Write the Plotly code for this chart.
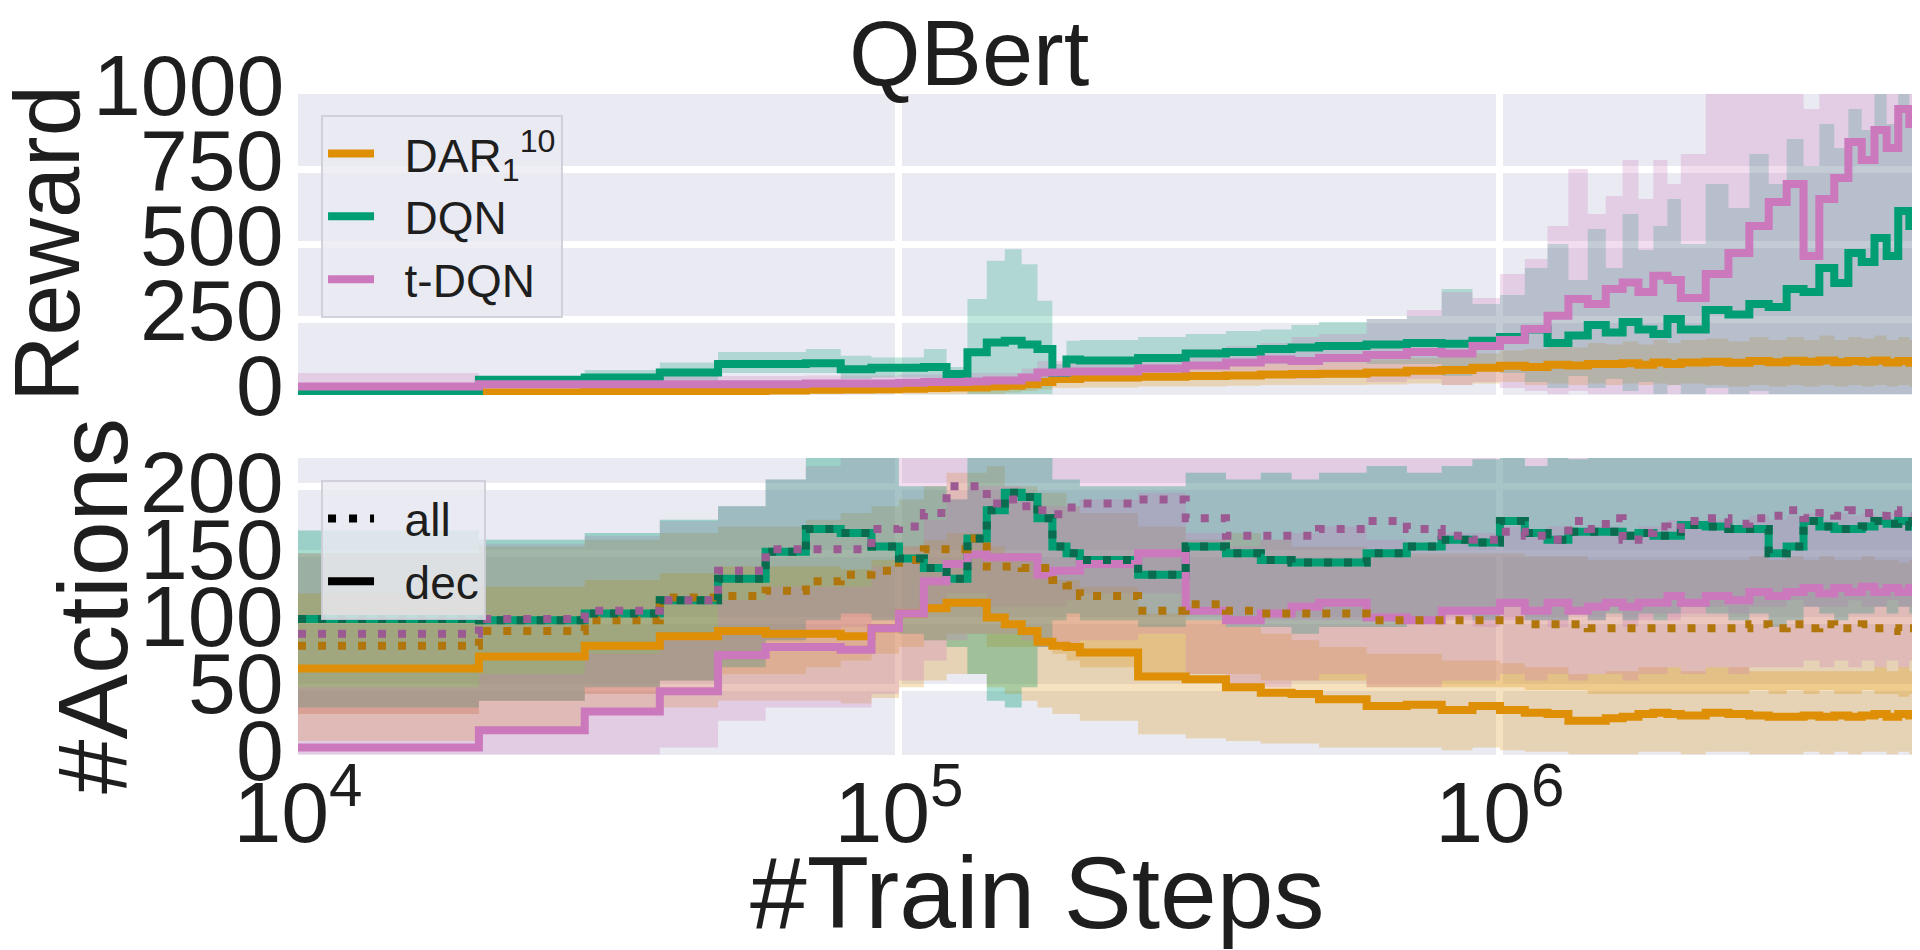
import math
import plotly.graph_objects as go

# ---------------- data (train steps in thousands) ----------------
STEPS_K = [10, 20, 30, 40, 50, 60, 70, 80, 90, 100,
           110, 120, 130, 140, 150, 160, 170, 180, 190, 200,
           250, 300, 350, 400, 450, 500, 600, 700, 800, 900,
           1000, 1100, 1200, 1300, 1400, 1500, 1600, 1700, 1800, 1900,
           2000, 2200, 2400, 2600, 2800, 3000, 3200, 3400, 3600, 3800,
           4000, 4200, 4400, 4600, 4800, 5000]

# ---- Reward panel ----
R_DAR = [3, 5, 8, 8, 10, 12, 14, 15, 16, 18,
         20, 22, 22, 25, 28, 33, 40, 50, 50, 55,
         58, 60, 62, 65, 67, 68, 72, 78, 80, 88,
         94, 90, 98, 95, 100, 100, 103, 98, 105, 100,
         105, 108, 104, 110, 106, 111, 108, 112, 106, 110,
         108, 112, 105, 110, 104, 100]
R_DAR_LO = [0, 0, 0, 0, 0, 0, 0, 0, 0, 0,
            0, 0, 0, 0, 5, 10, 15, 20, 20, 22,
            25, 25, 28, 30, 30, 30, 32, 35, 30, 35,
            40, 30, 35, 30, 35, 30, 35, 30, 35, 30,
            35, 30, 25, 30, 25, 30, 25, 30, 25, 30,
            25, 30, 25, 30, 25, 25]
R_DAR_HI = [30, 25, 28, 30, 32, 35, 38, 40, 42, 45,
            48, 50, 50, 55, 58, 62, 70, 80, 82, 88,
            92, 95, 98, 100, 105, 105, 115, 120, 125, 135,
            145, 150, 160, 155, 170, 165, 175, 165, 180, 170,
            180, 185, 175, 190, 180, 190, 180, 195, 180, 190,
            185, 195, 180, 190, 180, 175]

R_DQN = [3, 48, 55, 72, 100, 100, 103, 83, 88, 88,
         90, 67, 139, 172, 178, 165, 150, 70, 115, 112,
         120, 135, 140, 150, 155, 160, 165, 170, 168, 178,
         190, 215, 170, 195, 230, 205, 240, 215, 200, 250,
         215, 280, 265, 300, 290, 350, 340, 420, 370, 470,
         440, 520, 460, 610, 560, 700]
R_DQN_LO = [0, 30, 35, 45, 70, 70, 70, 50, 55, 55,
            50, 40, 0, 0, 0, 0, 0, 40, 60, 70,
            80, 90, 95, 100, 100, 105, 100, 100, 60, 80,
            70, 40, 20, 60, 20, 50, 10, 40, 0, 30,
            0, 20, 0, 10, 0, 0, 0, 0, 0, 0,
            0, 0, 0, 0, 0, 0]
R_DQN_HI = [20, 60, 80, 105, 140, 140, 150, 128, 122, 122,
            150, 90, 317, 444, 483, 433, 311, 100, 178, 180,
            190, 200, 210, 215, 230, 240, 250, 260, 350, 300,
            330, 420, 500, 380, 550, 420, 600, 480, 560, 650,
            500, 700, 620, 800, 700, 850, 760, 900, 820, 950,
            880, 1010, 900, 1010, 950, 1010]

R_TDQN = [25, 33, 33, 33, 33, 33, 35, 35, 35, 38,
          40, 40, 42, 45, 45, 55, 72, 72, 75, 75,
          85, 95, 105, 115, 110, 120, 130, 140, 135, 160,
          180, 217, 261, 317, 300, 350, 372, 340, 394, 380,
          320, 400, 470, 560, 640, 700, 460, 650, 720, 840,
          780, 880, 820, 950, 900, 930]
R_TDQN_LO = [0, 10, 10, 10, 10, 10, 12, 12, 12, 15,
             15, 15, 15, 20, 20, 25, 40, 40, 40, 40,
             45, 50, 55, 60, 50, 55, 40, 50, 30, 40,
             20, 10, 0, 10, 0, 0, 0, 0, 0, 0,
             0, 0, 0, 0, 0, 0, 0, 0, 0, 0,
             0, 0, 0, 0, 0, 0]
R_TDQN_HI = [70, 55, 55, 60, 60, 60, 62, 62, 62, 65,
             65, 65, 70, 70, 70, 85, 110, 110, 115, 120,
             130, 150, 160, 170, 190, 200, 250, 280, 340, 320,
             400, 450, 560, 750, 600, 660, 780, 650, 780, 700,
             800, 1010, 1010, 1010, 1010, 1010, 950, 1010, 1010, 1010,
             1010, 1010, 1010, 1010, 1010, 1010]

# ---- #Actions panel ----
A_DAR_ALL = [81, 92, 100, 117, 118, 122, 129, 134, 137, 145,
             153, 153, 161, 140, 140, 139, 139, 130, 126, 118,
             107, 112, 107, 105, 105, 105, 100, 100, 100, 100,
             100, 97, 97, 97, 94, 94, 94, 94, 94, 94,
             94, 94, 94, 97, 94, 97, 94, 97, 94, 94,
             97, 94, 94, 92, 94, 94]
A_DAR_ALL_LO = [30, 40, 45, 55, 60, 60, 65, 70, 75, 80,
                85, 90, 90, 80, 80, 80, 80, 75, 70, 65,
                60, 60, 60, 55, 55, 55, 50, 50, 50, 50,
                50, 48, 48, 48, 45, 45, 45, 45, 45, 45,
                45, 45, 45, 48, 45, 48, 45, 48, 45, 45,
                48, 45, 45, 43, 45, 45]
A_DAR_ALL_HI = [150, 155, 160, 165, 170, 170, 175, 180, 185, 190,
                200, 210, 210, 215, 200, 200, 195, 195, 185, 180,
                170, 160, 165, 160, 155, 155, 150, 150, 150, 150,
                150, 148, 148, 148, 145, 145, 145, 145, 145, 145,
                145, 145, 145, 148, 145, 148, 145, 148, 145, 145,
                148, 145, 145, 143, 145, 145]

A_DAR_DEC = [64, 73, 81, 88, 92, 90, 90, 88, 94, 105,
             109, 113, 113, 102, 97, 92, 84, 81, 80, 76,
             58, 56, 50, 46, 45, 41, 36, 37, 33, 36,
             33, 31, 30, 25, 25, 27, 28, 30, 31, 30,
             29, 31, 30, 29, 28, 28, 29, 28, 29, 28,
             29, 30, 28, 30, 29, 29]
A_DAR_DEC_LO = [10, 20, 30, 35, 40, 40, 40, 38, 42, 50,
                55, 60, 60, 50, 45, 40, 35, 30, 30, 25,
                15, 12, 10, 8, 8, 5, 5, 5, 3, 5,
                3, 2, 2, 0, 0, 0, 0, 2, 2, 2,
                0, 2, 2, 0, 0, 0, 2, 0, 2, 0,
                2, 2, 0, 2, 0, 2]
A_DAR_DEC_HI = [120, 125, 130, 135, 140, 140, 140, 138, 145, 155,
                160, 165, 165, 155, 150, 145, 135, 130, 130, 125,
                105, 100, 95, 90, 85, 80, 75, 75, 70, 70,
                68, 65, 65, 60, 60, 62, 62, 65, 65, 65,
                62, 65, 65, 62, 62, 62, 62, 62, 62, 62,
                62, 65, 62, 65, 62, 62]

# DQN: all actions == decisions
A_DQN = [101, 100, 105, 115, 131, 151, 168, 165, 155, 146,
         139, 131, 161, 182, 195, 192, 176, 155, 150, 145,
         134, 155, 150, 145, 143, 143, 150, 155, 160, 158,
         174, 165, 160, 166, 166, 166, 163, 165, 163, 163,
         171, 170, 168, 168, 150, 155, 174, 170, 168, 168,
         170, 174, 172, 174, 170, 155]
A_DQN_LO = [35, 40, 50, 55, 65, 85, 100, 105, 100, 90,
            85, 80, 60, 40, 35, 50, 80, 100, 105, 100,
            95, 100, 95, 95, 90, 95, 95, 100, 105, 100,
            110, 100, 100, 105, 100, 105, 100, 105, 100, 105,
            110, 105, 100, 105, 95, 100, 110, 105, 100, 105,
            105, 110, 105, 110, 105, 95]
A_DQN_HI = [167, 160, 165, 175, 185, 205, 230, 230, 230, 200,
            200, 190, 230, 230, 230, 230, 230, 205, 205, 200,
            200, 210, 205, 210, 205, 210, 215, 210, 215, 220,
            230, 215, 230, 220, 230, 230, 230, 230, 230, 230,
            230, 230, 230, 230, 230, 230, 230, 230, 230, 230,
            230, 230, 230, 230, 230, 230]

A_TDQN_ALL = [90, 101, 107, 115, 137, 153, 153, 153, 168, 170,
              180, 200, 200, 187, 190, 185, 182, 179, 184, 187,
              190, 176, 163, 163, 163, 168, 174, 168, 163, 160,
              166, 163, 160, 174, 168, 176, 160, 165, 170, 168,
              174, 176, 172, 176, 178, 182, 176, 180, 178, 182,
              180, 178, 182, 180, 178, 179]
A_TDQN_ALL_LO = [30, 40, 45, 55, 70, 85, 90, 95, 100, 105,
                 110, 120, 120, 110, 110, 110, 110, 110, 115, 120,
                 120, 110, 100, 100, 100, 100, 105, 100, 100, 95,
                 100, 100, 95, 105, 100, 110, 95, 100, 105, 100,
                 105, 110, 105, 110, 110, 115, 110, 110, 110, 115,
                 110, 110, 115, 110, 110, 110]
A_TDQN_ALL_HI = [150, 157, 163, 174, 185, 205, 215, 230, 230, 230,
                 230, 230, 230, 230, 230, 230, 230, 230, 230, 230,
                 230, 230, 230, 230, 230, 230, 230, 230, 230, 230,
                 230, 230, 230, 230, 230, 230, 230, 230, 230, 230,
                 230, 230, 230, 230, 230, 230, 230, 230, 230, 230,
                 230, 230, 230, 230, 230, 230]

A_TDQN_DEC = [5, 18, 32, 47, 74, 80, 80, 78, 94, 105,
              129, 142, 149, 147, 147, 147, 134, 137, 137, 142,
              150, 107, 100, 105, 110, 113, 102, 100, 107, 107,
              113, 107, 113, 107, 110, 113, 110, 113, 113, 118,
              113, 118, 115, 121, 118, 121, 124, 120, 124, 121,
              125, 121, 124, 121, 124, 121]
A_TDQN_DEC_LO = [0, 0, 0, 5, 25, 35, 35, 35, 45, 55,
                 70, 85, 90, 90, 90, 85, 80, 80, 80, 85,
                 90, 60, 50, 50, 55, 60, 50, 50, 55, 55,
                 60, 55, 60, 55, 60, 60, 55, 60, 60, 65,
                 60, 65, 60, 65, 65, 65, 70, 65, 70, 65,
                 70, 65, 70, 65, 70, 65]
A_TDQN_DEC_HI = [50, 60, 75, 90, 115, 125, 125, 125, 140, 155,
                 175, 190, 200, 200, 200, 195, 185, 185, 185, 190,
                 195, 165, 155, 160, 165, 170, 160, 155, 165, 165,
                 170, 165, 170, 165, 170, 170, 165, 170, 170, 175,
                 170, 175, 170, 178, 175, 178, 180, 175, 180, 178,
                 180, 178, 180, 178, 180, 178]

R_TICKS = [0, 250, 500, 750, 1000]
A_TICKS = [0, 50, 100, 150, 200]
X_TICKS = [1e4, 1e5, 1e6]
X_TICKTEXT = ["10<sup>4</sup>", "10<sup>5</sup>", "10<sup>6</sup>"]

SERIES_NAMES = ["DAR<sub>1</sub><sup>10</sup>", "DQN", "t-DQN"]
STYLE_NAMES = ["all", "dec"]

# ---------------- styling ----------------
ORANGE = (222, 143, 5)
GREEN = (2, 158, 115)
PINK = (204, 120, 188)
ORANGE_DARK = "#B0760C"
GREEN_DARK = "#0A6B4E"
PINK_DARK = "#9C5A92"

FONT = "Liberation Sans, Arial, Helvetica, sans-serif"
TXT = "#1e1e1e"
LW = 8
PAD = "\u00a0\u00a0"   # gap between legend sample and label


def rgba(c, a):
    return "rgba(%d,%d,%d,%.3f)" % (c[0], c[1], c[2], a)


X = [s * 1000 for s in STEPS_K]
for arr in [R_DAR, R_DAR_LO, R_DAR_HI, R_DQN, R_DQN_LO, R_DQN_HI, R_TDQN, R_TDQN_LO,
            R_TDQN_HI, A_DAR_ALL, A_DAR_ALL_LO, A_DAR_ALL_HI, A_DAR_DEC, A_DAR_DEC_LO,
            A_DAR_DEC_HI, A_DQN, A_DQN_LO, A_DQN_HI, A_TDQN_ALL, A_TDQN_ALL_LO,
            A_TDQN_ALL_HI, A_TDQN_DEC, A_TDQN_DEC_LO, A_TDQN_DEC_HI]:
    assert len(arr) == len(X), len(arr)

fig = go.Figure()


def band(lo, hi, color, xa, ya, alpha):
    fig.add_trace(go.Scatter(x=X, y=lo, mode="lines", line=dict(width=0, shape="hv"),
                             xaxis=xa, yaxis=ya, showlegend=False, hoverinfo="skip"))
    fig.add_trace(go.Scatter(x=X, y=hi, mode="lines", line=dict(width=0, shape="hv"),
                             fill="tonexty", fillcolor=rgba(color, alpha),
                             xaxis=xa, yaxis=ya, showlegend=False, hoverinfo="skip"))


def line(y, color, xa, ya, dash="solid", name=None, legend="legend"):
    fig.add_trace(go.Scatter(x=X, y=y, mode="lines",
                             line=dict(color=color, width=LW, shape="hv", dash=dash),
                             xaxis=xa, yaxis=ya, name=(PAD + name) if name else None,
                             showlegend=name is not None, legend=legend,
                             legendgroup=name, hoverinfo="skip"))


# ---- Reward panel (x2 / y2) ----
band(R_DAR_LO, R_DAR_HI, ORANGE, "x2", "y2", 0.25)
band(R_DQN_LO, R_DQN_HI, GREEN, "x2", "y2", 0.25)
band(R_TDQN_LO, R_TDQN_HI, PINK, "x2", "y2", 0.25)
line(R_DAR, rgba(ORANGE, 1), "x2", "y2", name=SERIES_NAMES[0])
line(R_DQN, rgba(GREEN, 1), "x2", "y2", name=SERIES_NAMES[1])
line(R_TDQN, rgba(PINK, 1), "x2", "y2", name=SERIES_NAMES[2])

# ---- #Actions panel (x / y) ----
DOT = "8px,12px"
BA = 0.26
BG = 0.19
band(A_DAR_ALL_LO, A_DAR_ALL_HI, ORANGE, "x", "y", BA)
band(A_DQN_LO, A_DQN_HI, GREEN, "x", "y", BG)          # DQN (all)
band(A_TDQN_ALL_LO, A_TDQN_ALL_HI, PINK, "x", "y", BA)
band(A_DAR_DEC_LO, A_DAR_DEC_HI, ORANGE, "x", "y", BA)
band(A_DQN_LO, A_DQN_HI, GREEN, "x", "y", BG)          # DQN (dec) - identical
band(A_TDQN_DEC_LO, A_TDQN_DEC_HI, PINK, "x", "y", BA)
line(A_DAR_DEC, rgba(ORANGE, 1), "x", "y")
line(A_DQN, rgba(GREEN, 1), "x", "y")
line(A_TDQN_DEC, rgba(PINK, 1), "x", "y")
line(A_DAR_ALL, ORANGE_DARK, "x", "y", dash=DOT)
line(A_DQN, GREEN_DARK, "x", "y", dash=DOT)
line(A_TDQN_ALL, PINK_DARK, "x", "y", dash=DOT)

# legend entries for the line styles
fig.add_trace(go.Scatter(x=[None], y=[None], mode="lines", name=PAD + STYLE_NAMES[0],
                         line=dict(color="black", width=LW, dash="8px,13px"),
                         xaxis="x", yaxis="y", legend="legend2", legendgroup="all"))
fig.add_trace(go.Scatter(x=[None], y=[None], mode="lines", name=PAD + STYLE_NAMES[1],
                         line=dict(color="black", width=LW),
                         xaxis="x", yaxis="y", legend="legend2", legendgroup="dec"))

XR = [4, math.log10(5e6)]
tickfont = dict(family=FONT, size=86, color=TXT)
common_x = dict(type="log", range=XR, tickvals=X_TICKS, showgrid=True, gridcolor="white",
                gridwidth=7, zeroline=False, showline=False, ticks="")
common_y = dict(showgrid=True, gridcolor="white", gridwidth=7, zeroline=False,
                showline=False, ticks="", showticklabels=False)

legend_style = dict(bgcolor="rgba(234,234,242,0.82)", bordercolor="rgba(205,205,215,0.9)",
                    borderwidth=2, font=dict(family=FONT, size=46, color=TXT),
                    xanchor="left", yanchor="top", itemwidth=46, tracegroupgap=9,
                    traceorder="normal")

# y tick labels placed on the axis scales
tick_annots = []
for v in R_TICKS:
    tick_annots.append(dict(text=str(v), x=0, xref="paper", y=v, yref="y2",
                            xanchor="right", yanchor="middle", xshift=-12, yshift=9,
                            showarrow=False, font=tickfont))
for v in A_TICKS:
    tick_annots.append(dict(text=str(v), x=0, xref="paper", y=v, yref="y",
                            xanchor="right", yanchor="middle", xshift=-12, yshift=4,
                            showarrow=False, font=tickfont))

# plot area: x 290..1912 px, y 86..747 px
fig.update_layout(
    width=1920, height=950,
    margin=dict(l=290, r=8, t=86, b=203),
    paper_bgcolor="white", plot_bgcolor="#EAEAF2",
    font=dict(family=FONT, color=TXT),
    xaxis=dict(anchor="y", ticktext=X_TICKTEXT, tickfont=tickfont, ticklabelstandoff=0,
               **common_x),
    xaxis2=dict(anchor="y2", matches="x", showticklabels=False, **common_x),
    yaxis=dict(domain=[0, 0.4493], range=[-0.5, 221], tickvals=A_TICKS, **common_y),
    yaxis2=dict(domain=[0.5446, 1], range=[-3.3, 1000.3], tickvals=R_TICKS, **common_y),
    legend=dict(x=0.0142, y=0.968, **legend_style),
    legend2=dict(x=0.0142, y=0.416, **legend_style),
    showlegend=True,
    annotations=tick_annots + [
        dict(text="QBert", x=0.4137, y=1.0621, xref="paper", yref="paper", showarrow=False,
             xanchor="center", yanchor="middle", font=dict(family=FONT, size=92, color=TXT)),
        dict(text="Reward", x=-0.1547, y=0.773, xref="paper", yref="paper", showarrow=False,
             textangle=-90, xanchor="center", yanchor="middle",
             font=dict(family=FONT, size=92, color=TXT)),
        dict(text="#Actions", x=-0.1264, y=0.2254, xref="paper", yref="paper", showarrow=False,
             textangle=-90, xanchor="center", yanchor="middle",
             font=dict(family=FONT, size=98, color=TXT)),
        dict(text="#Train Steps", x=0.456, y=-0.2088, xref="paper", yref="paper",
             showarrow=False, xanchor="center", yanchor="middle",
             font=dict(family=FONT, size=102, color=TXT)),
    ],
)

fig.write_html("out.html")
